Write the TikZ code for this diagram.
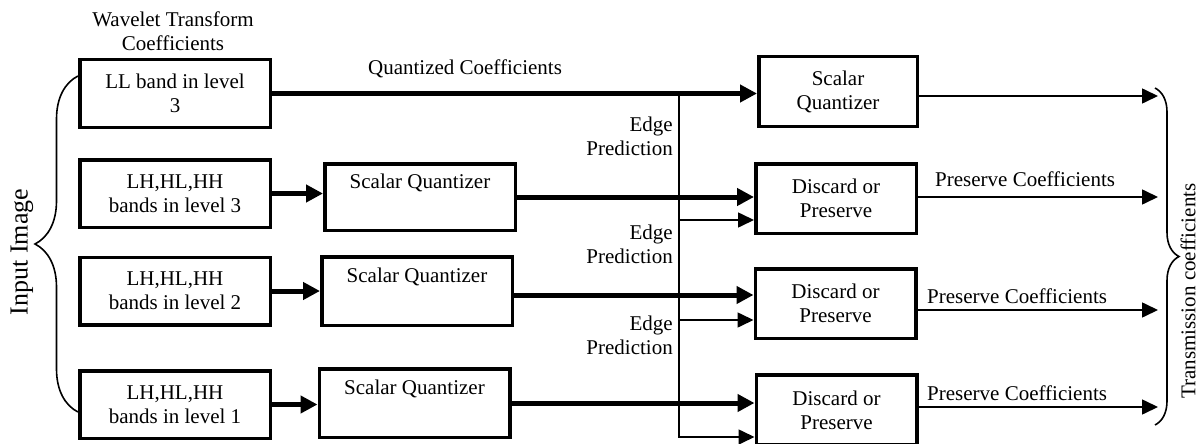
\documentclass[tikz,border=0pt]{standalone}
\usepackage{fontspec}
\setmainfont{Liberation Serif}
\usetikzlibrary{arrows.meta,decorations.pathreplacing,calc}
\begin{document}
\begin{tikzpicture}[x=1pt,y=-1pt,
  font=\fontsize{21}{24}\selectfont,
  box/.style={draw, line width=3.5pt, minimum width=190.5pt, minimum height=67.5pt, align=center, inner sep=0pt},
  thickarr/.style={line width=5pt, -{Triangle[length=17pt,width=17pt]}},
  thinarr/.style={line width=1.6pt, -{Triangle[length=16pt,width=15pt]}},
  txt/.style={inner sep=0pt, align=center},
  bracestyle/.style={line width=1.6pt, decorate}]
\useasboundingbox (0,0) rectangle (1202,444);
\clip (0,0) rectangle (1202,444);
\fill[white] (0,0) rectangle (1202,444);

% left column
\node[box] (ll) at (175,93.5) {LL band in level\\3};
\node[box] (b3) at (175,193.5) {LH,HL,HH\\bands in level 3};
\node[box] (b2) at (175,291) {LH,HL,HH\\bands in level 2};
\node[box] (b1) at (175,404.5) {LH,HL,HH\\bands in level 1};

% scalar quantizers (middle)
\node[box, minimum height=66.5pt] (sq3) at (420,197) {Scalar Quantizer\\\strut};
\node[box, minimum height=68.5pt] (sq2) at (417,291) {Scalar Quantizer\\\strut};
\node[box, minimum height=68.5pt] (sq1) at (414.5,403) {Scalar Quantizer\\\strut};

% right column
\node[box, minimum width=158.5pt, minimum height=69.5pt] (sq0) at (838,91.5) {Scalar\\Quantizer};
\node[box, minimum width=160.5pt, minimum height=69.5pt] (d3) at (836,198.5) {Discard or\\Preserve};
\node[box, minimum width=160.5pt, minimum height=69.5pt] (d2) at (835.5,303.5) {Discard or\\Preserve};
\node[box, minimum width=160.5pt, minimum height=70pt] (d1) at (836.5,410) {Discard or\\Preserve};

% texts
\node[txt] (wt) at (173,31) {Wavelet Transform\\Coefficients};
\node[txt] (qc) at (465,69) {Quantized Coefficients};
\node[txt, anchor=east, align=right] (ep3) at (673,136) {Edge\\Prediction};
\node[txt, anchor=east, align=right] (ep2) at (673,244) {Edge\\Prediction};
\node[txt, anchor=east, align=right] (ep1) at (673,335) {Edge\\Prediction};
\node[txt, anchor=west] (pc3) at (935,179) {Preserve Coefficients};
\node[txt, anchor=west] (pc2) at (927,296) {Preserve Coefficients};
\node[txt, anchor=west] (pc1) at (927,393) {Preserve Coefficients};
\node[txt, rotate=90, font=\fontsize{26}{30}\selectfont] (ii) at (22,252) {Input Image};
\node[txt, rotate=90] (tc) at (1188,291) {Transmission coefficients};

% thick arrows
\draw[thickarr] (ll.east) -- (ll.east -| sq0.west);
\draw[thickarr] (b3.east) -- (b3.east -| sq3.west);
\draw[thickarr] (b2.east) -- (b2.east -| sq2.west);
\draw[thickarr] (b1.east) -- (b1.east -| sq1.west);
\draw[thickarr] (sq3.east) -- (sq3.east -| d3.west);
\draw[thickarr] ($(sq2.east)+(0,4)$) -- ($(sq2.east -| d2.west)+(0,4)$);
\draw[thickarr] (sq1.east) -- (sq1.east -| d1.west);

% edge prediction line
\coordinate (vtop) at (679,91);
\coordinate (vbot) at (679,437);
\coordinate (e3) at (679,220);
\coordinate (e2) at (679,320);
\draw[thinarr] (vtop) -- (vbot) -- (vbot -| d1.west);
\draw[thinarr] (e3) -- (e3 -| d3.west);
\draw[thinarr] (e2) -- (e2 -| d2.west);

% output arrows
\coordinate (t0) at (1158,96);
\coordinate (t3) at (1158,197);
\coordinate (t2) at (1158,310);
\coordinate (t1) at (1158,407);
\draw[thinarr] (sq0.east |- t0) -- (t0);
\draw[thinarr] (d3.east |- t3) -- (t3);
\draw[thinarr] (d2.east |- t2) -- (t2);
\draw[thinarr] (d1.east |- t1) -- (t1);

% braces
\coordinate (lb1) at (78,412);
\coordinate (lb2) at (78,76);
\draw[bracestyle, decoration={brace, amplitude=43pt}] (lb1) -- (lb2);
\coordinate (rb1) at (1155,88);
\coordinate (rb2) at (1155,425);
\draw[bracestyle, decoration={brace, amplitude=24pt}] (rb1) -- (rb2);
\end{tikzpicture}
\end{document}
